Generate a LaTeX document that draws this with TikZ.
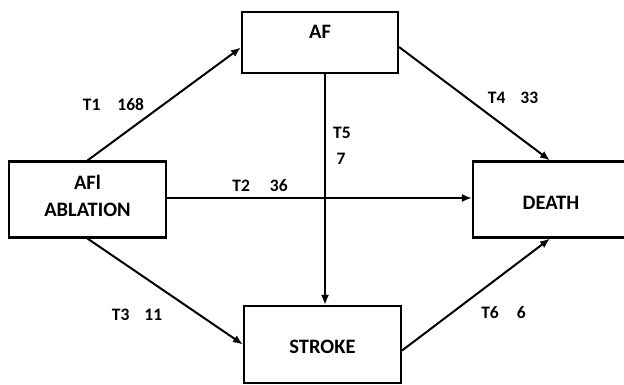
\documentclass[tikz,border=0pt]{standalone}
\usepackage{fontspec}
\setmainfont{Carlito}
\usetikzlibrary{arrows.meta,calc}
\begin{document}
\begin{tikzpicture}[x=1pt,y=-1pt,
  box/.style={draw, line width=2.1pt, inner sep=0pt},
  boxtext/.style={font=\fontsize{20.5}{27}\selectfont\bfseries, align=center, inner sep=0pt},
  conn/.style={line width=2pt, -{Latex[length=10pt,width=8pt]}},
  lbl/.style={font=\fontsize{17.5}{20}\selectfont\bfseries, inner sep=0pt}]
\useasboundingbox (0,0) rectangle (624,385);
\clip (0,0) rectangle (624,385);
\node[box, minimum width=157pt, minimum height=76pt,
  label={[boxtext, yshift=4pt]center:AFl\\ABLATION}] (afi) at (87.5,199.5) {};
\node[box, minimum width=156pt, minimum height=61pt,
  label={[boxtext, yshift=10.5pt]center:AF}] (af) at (320,42.5) {};
\node[box, minimum width=156pt, minimum height=76pt,
  label={[boxtext, yshift=-3.5pt]center:DEATH}] (death) at (551,199.5) {};
\node[box, minimum width=157pt, minimum height=77pt,
  label={[boxtext, yshift=-2.5pt]center:STROKE}] (stroke) at (322.5,344.5) {};
\coordinate (vx) at (325,0);
\draw[conn] (afi.north) -- ($(af.west)+(0,5)$);
\draw[conn] ($(afi.east)+(0,-1.5)$) -- ($(death.west)+(0,-1.5)$);
\draw[conn] (afi.south) -- (stroke.west);
\draw[conn] ($(af.east)+(0,4.5)$) -- ($(death.north)+(-1,0)$);
\draw[conn] (af.south -| vx) -- (stroke.north -| vx);
\draw[conn] ($(stroke.east)+(0,6)$) -- ($(death.south)+(-1,0)$);
\node[lbl] (t1) at (113.5,105) {T1\hspace{17pt}168};
\node[lbl] (t2) at (260,186) {T2\hspace{20pt}36};
\node[lbl] (t3) at (137,315) {T3\hspace{15pt}11};
\node[lbl] (t4) at (513,98) {T4\hspace{15pt}33};
\node[lbl] (t5) at (342,133) {T5};
\node[lbl] (t5v) at (341,159) {7};
\node[lbl] (t6) at (503.5,313) {T6\hspace{18pt}6};
\end{tikzpicture}
\end{document}
